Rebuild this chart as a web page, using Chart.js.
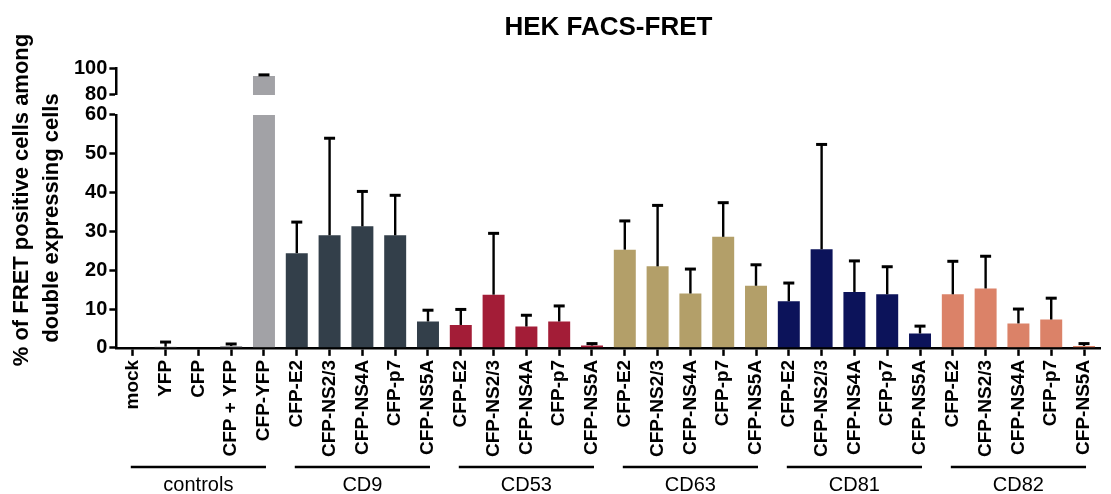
<!DOCTYPE html>
<html>
<head>
<meta charset="utf-8">
<script src="https://cdn.jsdelivr.net/npm/chart.js@4.4.1/dist/chart.umd.min.js"></script>
<style>
  html, body { margin: 0; padding: 0; background: #fff; }
  #wrap { width: 1111px; height: 494px; position: relative; }
</style>
</head>
<body>
<div id="wrap"><canvas id="fretChart"></canvas></div>
<script>
// categories, grouped by tetraspanin
const groupNames = ['controls', 'CD9', 'CD53', 'CD63', 'CD81', 'CD82'];
const groupColors = ['#a2a2a6', '#333f4a', '#a31d37', '#b39f69', '#0c135a', '#db8268'];
const controlLabels = ['mock', 'YFP', 'CFP', 'CFP + YFP', 'CFP-YFP'];
const hcvLabels = ['CFP-E2', 'CFP-NS2/3', 'CFP-NS4A', 'CFP-p7', 'CFP-NS5A'];

// % FRET positive cells (mean) and upper error (SD)
const controlMeans = [0, 0.3, 0, 0.5, 94.2];
const controlErrors = [0, 1.2, 0, 0.5, 0.8];
const cd9Means = [24.4, 29.0, 31.3, 29.0, 6.8];
const cd9Errors = [8.0, 25.0, 9.0, 10.3, 2.9];
const cd53Means = [5.9, 13.7, 5.5, 6.8, 0.6];
const cd53Errors = [4.0, 15.8, 2.9, 4.0, 0.5];
const cd63Means = [25.3, 21.0, 14.0, 28.6, 16.0];
const cd63Errors = [7.4, 15.7, 6.3, 8.8, 5.4];
const cd81Means = [12.0, 25.4, 14.4, 13.8, 3.7];
const cd81Errors = [4.7, 27.0, 8.0, 7.1, 1.9];
const cd82Means = [13.8, 15.3, 6.3, 7.3, 0.5];
const cd82Errors = [8.5, 8.3, 3.7, 5.5, 0.6];

// broken y axis
const lowTicks = [0, 10, 20, 30, 40, 50, 60];
const highTicks = [80, 100];

const labels = controlLabels.concat(hcvLabels, hcvLabels, hcvLabels, hcvLabels, hcvLabels);
const means = [].concat(controlMeans, cd9Means, cd53Means, cd63Means, cd81Means, cd82Means);
const errors = [].concat(controlErrors, cd9Errors, cd53Errors, cd63Errors, cd81Errors, cd82Errors);
const barColors = labels.map((l, i) => groupColors[Math.floor(i / 5)]);

const lowMax = lowTicks[lowTicks.length - 1];
const highMin = highTicks[0];
const highMax = highTicks[highTicks.length - 1];

const FONT = "'Liberation Sans', Arial, sans-serif";

const errorBars = {
    id: 'errorBars',
    afterDatasetsDraw(chart) {
        const { ctx, scales } = chart;
        ctx.save();
        ctx.strokeStyle = '#000';
        means.forEach((v, i) => {
            const e = errors[i];
            if (!e) return;
            const sc = v > highMin ? scales.yTop : scales.y;
            const px = scales.x.getPixelForValue(i);
            const y0 = sc.getPixelForValue(v);
            const y1 = sc.getPixelForValue(v + e);
            ctx.lineWidth = 2.4;
            ctx.beginPath();
            ctx.moveTo(px, y0);
            ctx.lineTo(px, y1);
            ctx.stroke();
            ctx.lineWidth = 3;
            ctx.beginPath();
            ctx.moveTo(px - 5.5, y1);
            ctx.lineTo(px + 5.5, y1);
            ctx.stroke();
        });
        ctx.restore();
    }
};

const groupAxis = {
    id: 'groupAxis',
    afterDraw(chart) {
        const { ctx, scales } = chart;
        const x = scales.x;
        ctx.save();
        ctx.strokeStyle = '#000';
        ctx.fillStyle = '#000';
        ctx.lineWidth = 2.5;
        ctx.font = '20px ' + FONT;
        ctx.textAlign = 'center';
        ctx.textBaseline = 'middle';
        groupNames.forEach((g, gi) => {
            const x1 = x.getPixelForValue(gi * 5) - 2;
            const x2 = x.getPixelForValue(gi * 5 + 4) + 2;
            ctx.beginPath();
            ctx.moveTo(x1, 467);
            ctx.lineTo(x2, 467);
            ctx.stroke();
            ctx.fillText(g, (x1 + x2) / 2, 485);
        });
        // y axis title, two lines
        ctx.font = 'bold 22px ' + FONT;
        ctx.translate(22, 200);
        ctx.rotate(-Math.PI / 2);
        ctx.fillText('% of FRET positive cells among', 0, 0);
        ctx.fillText('double expressing cells', -18, 30);
        ctx.restore();
    }
};

const axisStyle = {
    grid: { display: true, drawOnChartArea: false, drawTicks: true, tickLength: 7, tickWidth: 2.5, tickColor: '#000' },
    border: { display: true, color: '#000', width: 2.5 }
};
const yTickStyle = { color: '#000', font: { family: FONT, size: 20, weight: 'bold' }, padding: 2, autoSkip: false };

new Chart(document.getElementById('fretChart'), {
    type: 'bar',
    data: {
        labels: labels,
        datasets: [{
            data: means.map(v => Math.min(v, lowMax)),
            backgroundColor: barColors,
            yAxisID: 'y'
        }, {
            data: means.map(v => v > highMin ? [highMin, v] : null),
            backgroundColor: barColors,
            yAxisID: 'yTop'
        }]
    },
    options: {
        responsive: true,
        maintainAspectRatio: false,
        animation: false,
        layout: { padding: { left: 72, right: 3, top: 0, bottom: 33 } },
        datasets: { bar: { grouped: false, barPercentage: 0.67, categoryPercentage: 1 } },
        plugins: {
            legend: { display: false },
            tooltip: { enabled: false },
            title: {
                display: true,
                fullSize: false,
                text: 'HEK FACS-FRET',
                color: '#000',
                font: { family: FONT, size: 26, weight: 'bold' },
                padding: { top: 12, bottom: 25 }
            }
        },
        scales: {
            x: {
                offset: true,
                grid: { display: true, offset: false, drawOnChartArea: false, drawTicks: true, tickLength: 8, tickWidth: 2.5, tickColor: '#000' },
                border: { display: true, color: '#000', width: 2.5 },
                ticks: {
                    color: '#000',
                    font: { family: FONT, size: 19, weight: 'bold' },
                    maxRotation: 90,
                    minRotation: 90,
                    autoSkip: false,
                    padding: 4
                }
            },
            y: {
                position: 'left',
                stack: 'left',
                stackWeight: 232.7,
                min: 0,
                max: lowMax,
                afterBuildTicks: s => { s.ticks = lowTicks.map(v => ({ value: v })); },
                ticks: yTickStyle,
                ...axisStyle
            },
            ySpace: {
                type: 'linear',
                position: 'left',
                stack: 'left',
                stackWeight: 20,
                display: true,
                ticks: { display: false },
                grid: { display: false },
                border: { display: false }
            },
            yTop: {
                type: 'linear',
                position: 'left',
                stack: 'left',
                stackWeight: 26.7,
                min: highMin,
                max: highMax,
                afterBuildTicks: s => { s.ticks = highTicks.map(v => ({ value: v })); },
                ticks: yTickStyle,
                ...axisStyle
            }
        }
    },
    plugins: [errorBars, groupAxis]
});
</script>
</body>
</html>
